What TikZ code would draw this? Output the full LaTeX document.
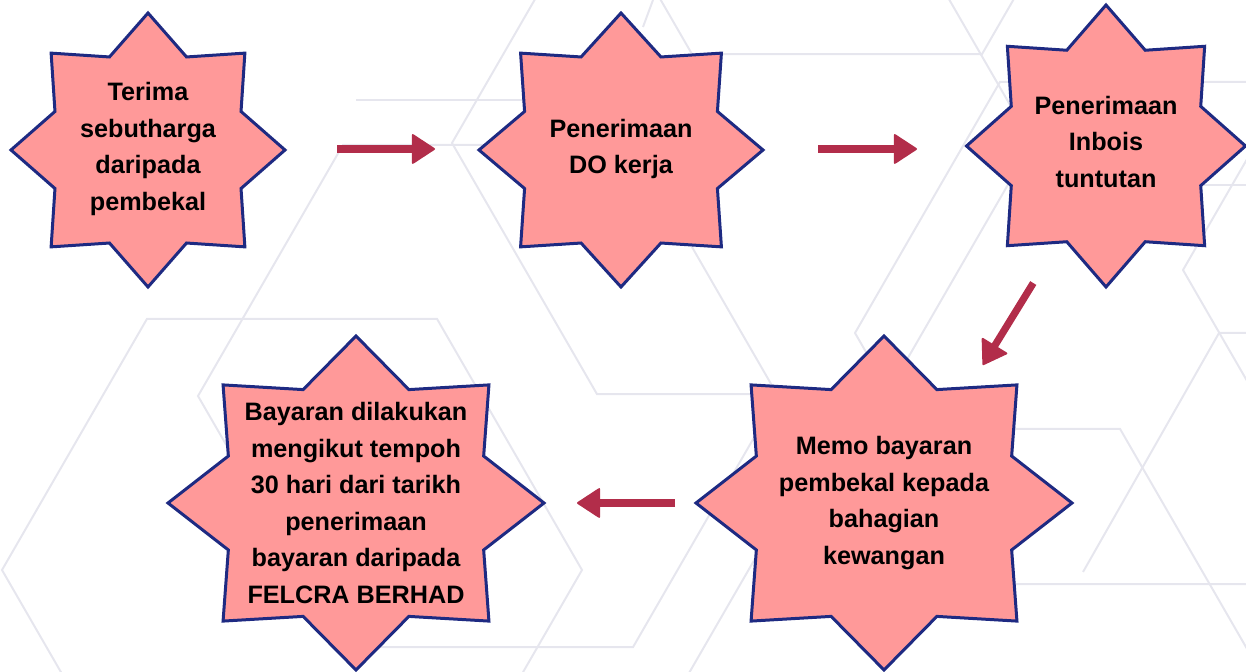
\documentclass[tikz,border=0pt]{standalone}
\usepackage{fontspec}
\setmainfont{Liberation Sans}
\usetikzlibrary{arrows.meta, calc}

\definecolor{starpink}{RGB}{255,153,153}
\definecolor{starnavy}{RGB}{30,42,130}
\definecolor{arrowred}{RGB}{178,45,74}
\definecolor{hexgrey}{RGB}{230,230,238}

\tikzset{
  starshape/.style={fill=starpink, draw=starnavy, line width=1.5pt, line join=miter},
  steptext/.style={font=\fontsize{12.6}{18.3}\selectfont\bfseries, align=center, inner sep=0pt},
  flow/.style={draw=arrowred, line width=3.6pt,
    -{Triangle[round, length=12pt, width=15.5pt, line width=1pt]}},
  hexline/.style={draw=hexgrey, line width=1pt}
}

% eight-point star: centre x, centre y, x radius, y radius
\newcommand{\octstar}[4]{%
  \filldraw[starshape, shift={(#1,#2)}] (90:#3 and #4)
    \foreach \k [evaluate=\k as \f using {mod(\k,2)==1 ? 0.735 : 1}] in {1,...,15}
      { -- ({90+22.5*\k}:{\f*#3} and {\f*#4}) } -- cycle;
}
% flat-topped hexagon: centre x, centre y, side
\newcommand{\hexcell}[3]{%
  \draw[hexline, shift={(#1,#2)}] (0:#3) \foreach \k in {1,...,5}{ -- (60*\k:#3) } -- cycle;
}

\begin{document}
\begin{tikzpicture}[x=0.5pt, y=-0.5pt]
	\useasboundingbox (0,0) rectangle (1246,672);

	% background pattern
	\begin{scope}
		\clip (0,0) rectangle (1246,672);
		\hexcell{292}{570}{290}
		\hexcell{742}{143}{290}
		\hexcell{488}{396}{290}
		\hexcell{1145}{333}{290}
		\hexcell{975}{680}{290}
		\hexcell{1473}{270}{290}
		\hexcell{837}{-197}{290}
		\draw[hexline] (356,100) -- (600,100);
		\draw[hexline] (1200,185) -- (1246,185);
		\draw[hexline] (1083,572) -- (1219,333) -- (1246,333);
		\draw[hexline] (643,27) -- (653,0);
	\end{scope}

	% stars
	\octstar{148}{150}{137}{137}
	\octstar{621}{150}{142}{137}
	\octstar{1106}{146}{139.5}{141}
	\octstar{884}{503}{188}{167}
	\octstar{356}{503}{188}{167}

	% steps
	\node[steptext] (n1) at (148,149) {Terima\\sebutharga\\daripada\\pembekal};
	\node[steptext] (n2) at (621,149) {Penerimaan\\DO kerja};
	\node[steptext] (n3) at (1106,142) {Penerimaan\\Inbois\\tuntutan};
	\node[steptext] (n4) at (884,503) {Memo bayaran\\pembekal kepada\\bahagian\\kewangan};
	\node[steptext] (n5) at (356,503) {Bayaran dilakukan\\mengikut tempoh\\30 hari dari tarikh\\penerimaan\\bayaran daripada\\FELCRA BERHAD};

	% arrows
	\draw[flow, shorten <=94.5pt, shorten >=93pt] (n1.center) -- (n2.center);
	\draw[flow, shorten <=98.5pt, shorten >=94.5pt] (n2.center) -- (n2.center -| n3.center);
	\draw[flow, shorten <=82.8pt, shorten >=81pt] ([xshift=7pt]n3.center) -- ([xshift=7pt]n4.center);
	\draw[flow, shorten <=104.5pt, shorten >=110.5pt] (n4.center) -- (n5.center);
\end{tikzpicture}
\end{document}
